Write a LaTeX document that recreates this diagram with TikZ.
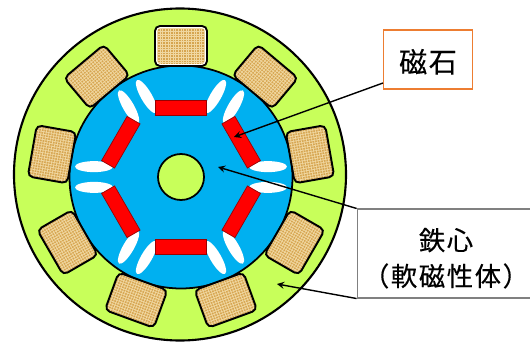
\documentclass[tikz,border=0pt]{standalone}
\usepackage{fontspec}
\newfontfamily\jpfont[FakeBold=0.3, LetterSpace=6]{Noto Sans CJK JP}
\definecolor{YokeGreen}{RGB}{200, 255, 90}
\definecolor{CoreBlue}{RGB}{0, 176, 240}
\definecolor{CoilTan}{RGB}{214, 165, 80}
\definecolor{CoilGrid}{RGB}{240, 215, 160}
\definecolor{LabelOrange}{RGB}{237, 125, 49}
\tikzset{
	magnetlabel/.style={draw=LabelOrange, line width=0.8pt, fill=white, font=\jpfont\fontsize{16}{20}\selectfont, minimum width=89*0.02cm, minimum height=59*0.02cm},
	corelabel/.style={draw=gray, line width=0.6pt, fill=white, font=\jpfont\fontsize{15}{20.4}\selectfont, align=center, minimum width=170*0.02cm, minimum height=89*0.02cm},
	pointer/.style={-stealth, thick},
}

\begin{document}
\begin{tikzpicture}[x=0.02cm, y=0.02cm]
	\useasboundingbox (0, 0) rectangle (530, 342);
	% stator and rotor
	\draw[fill=YokeGreen, line width=1.2pt] (180, 167.5) circle (166);
	\draw[fill=CoreBlue, line width=1pt] (181, 165) circle (111.5);
	\draw[fill=YokeGreen, line width=1pt] (181, 165) circle (23);
	% coils
	\foreach \a in {10, 50, ..., 330}{
		\begin{scope}[shift={(181, 165)}, rotate=\a-90]
			\fill[CoilTan, rounded corners=1mm] (-26, 111) rectangle (26, 151);
			\begin{scope}
				\clip[rounded corners=1mm] (-26, 111) rectangle (26, 151);
				\draw[CoilGrid, line width=0.4pt] (-26, 111) grid[step=2.6] (26, 151);
			\end{scope}
			\draw[line width=1.1pt, rounded corners=1mm] (-26, 111) rectangle (26, 151);
		\end{scope}
	}
	\draw[white, line width=0.5pt, rounded corners=0.8mm] (156.5, 277.5) rectangle (205.5, 314.5);
	% magnets with their air gaps
	\foreach \a in {0, 60, ..., 300}{
		\begin{scope}[shift={(181, 165)}, rotate=\a]
			\fill[white, rotate around={-30:(34.5, 80.5)}] (34.5, 80.5) ellipse (5.5 and 19);
			\fill[white, rotate around={30:(-34.5, 80.5)}] (-34.5, 80.5) ellipse (5.5 and 19);
			\draw[fill=red, draw=red!60!black, line width=0.4pt] (-25.5, 62) rectangle (25.5, 77);
		\end{scope}
	}
	% labels
	\node[magnetlabel] (magnet) at (428, 282.5) {\rule{0pt}{16pt}磁石};
	\node[corelabel] (core) at (446, 88.5) {\rule{0pt}{18pt}鉄心\\（軟磁性体）};
	\coordinate (magnetstart) at (383, 259);
	\coordinate (magnettip) at (234, 205);
	\coordinate (coretip) at (218, 175);
	\coordinate (yoketip) at (277, 58);
	\draw[pointer] (magnetstart) -- (magnettip);
	\draw[pointer] (core.north west) -- (coretip);
	\draw[pointer] (core.south west) -- (yoketip);
\end{tikzpicture}
\end{document}
